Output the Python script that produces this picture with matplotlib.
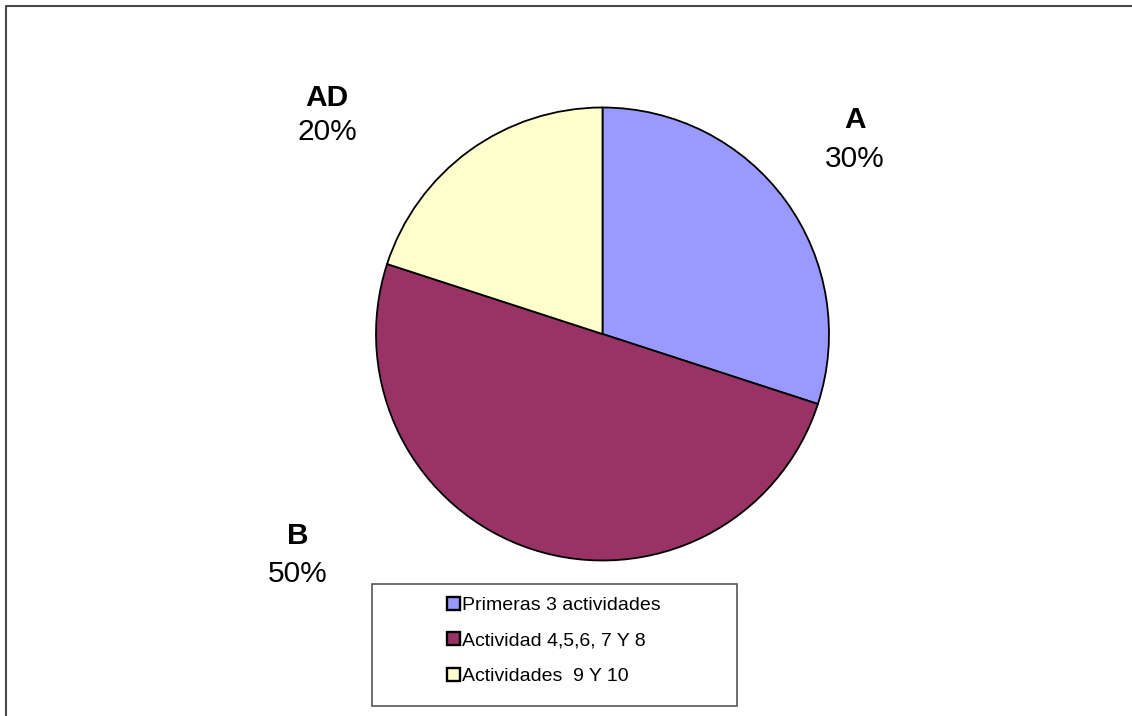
import matplotlib
matplotlib.use("Agg")
import matplotlib.pyplot as plt
from matplotlib.patches import Rectangle, Patch
from matplotlib.lines import Line2D

categories = ["Primeras 3 actividades", "Actividad 4,5,6, 7 Y 8", "Actividades  9 Y 10"]
short_labels = ["A", "B", "AD"]
values = [30, 50, 20]
colors = ["#9999FF", "#993366", "#FFFFCC"]

plt.rcParams['font.family'] = ['Liberation Sans', 'DejaVu Sans']

W, H = 1132, 716
fig = plt.figure(figsize=(W / 100, H / 100), dpi=100)

# outer border (top and left visible)
fig.add_artist(Line2D([6 / W, 6 / W, 1.0], [0.0, 1 - 6 / H, 1 - 6 / H],
                      transform=fig.transFigure, color="#4a4a4a", lw=1.5))

cx, cy, r = 602.5, 334, 226.5
ax = fig.add_axes([(cx - r) / W, (H - cy - r) / H, 2 * r / W, 2 * r / H])
wedges, _ = ax.pie(values, colors=colors, startangle=90, counterclock=False,
                   wedgeprops=dict(edgecolor="black", linewidth=1.3))
ax.set_xlim(-1, 1)
ax.set_ylim(-1, 1)
for w in wedges:
    w.set_clip_on(False)

# data labels (pixel positions of text centre x, baselines of name and percent)
pct = [f"{v}%" for v in values]
label_pos = {"A": (855, 128, 167), "B": (298, 544, 582), "AD": (327, 106, 140)}
for name, p in zip(short_labels, pct):
    px, yb1, yb2 = label_pos[name]
    fig.text(px / W, 1 - yb1 / H, name, ha="center", va="baseline",
             fontsize=21.5, fontweight="bold")
    fig.text(px / W, 1 - yb2 / H, p, ha="center", va="baseline",
             fontsize=21.5)

# legend box
lx0, ly0, lx1, ly1 = 372, 584, 737, 706
fig.add_artist(Rectangle((lx0 / W, 1 - ly1 / H), (lx1 - lx0) / W, (ly1 - ly0) / H,
                         transform=fig.transFigure, facecolor="white",
                         edgecolor="#555555", lw=1.2))
handles = [Patch(facecolor=c, edgecolor="black", linewidth=1.7) for c in colors]
leg = fig.legend(handles, categories, loc="upper left",
                 bbox_to_anchor=(447 / W, 1 - 597 / H), frameon=False,
                 fontsize=14, handlelength=0.65, handleheight=0.65,
                 handletextpad=0.1, labelspacing=0.93, borderpad=0,
                 borderaxespad=0)

fig.savefig("out.png", dpi=100)
